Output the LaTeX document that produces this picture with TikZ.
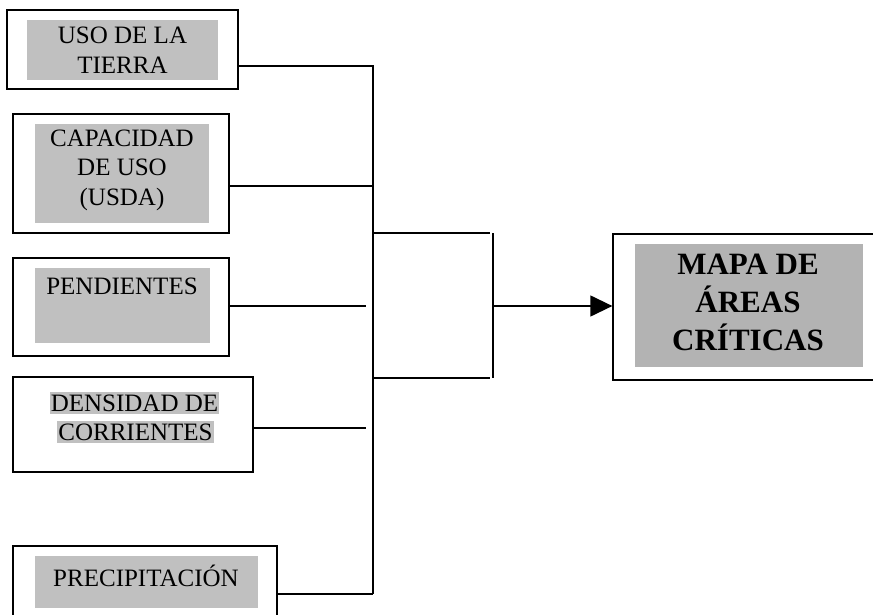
\documentclass[tikz,border=0pt]{standalone}
\usepackage{fontspec}
\setmainfont{Liberation Serif}
\usetikzlibrary{arrows.meta}
\definecolor{boxgray}{RGB}{192,192,192}
\definecolor{mapgray}{RGB}{179,179,179}
\tikzset{
  frame/.style={draw=black, line width=1.3pt, fill=none, inner sep=0pt},
  shade/.style={fill=boxgray, draw=none},
  label/.style={inner sep=0pt, align=center, font=\fontsize{25}{29.5}\selectfont},
  hilite/.style={fill=boxgray, inner xsep=1pt, inner ysep=3pt, font=\fontsize{25}{27}\selectfont},
  biglabel/.style={inner sep=0pt, align=center, font=\fontsize{31}{38}\selectfont\bfseries},
  link/.style={line width=1.3pt},
  feed/.style={line width=1.3pt, -{Triangle[length=22pt,width=21pt]}}
}
\begin{document}
\begin{tikzpicture}[x=1pt,y=-1pt]
\useasboundingbox (0,0) rectangle (873,615);
\clip (0,0) rectangle (873,615);
\fill[white] (0,0) rectangle (873,615);

% input layers: shaded panels
\fill[shade] (27,20) rectangle (218,80);
\fill[shade] (35,124) rectangle (209,223);
\fill[shade] (35,268) rectangle (210,343);
\fill[shade] (35,556) rectangle (258,608);
\fill[mapgray] (635,244) rectangle (863,367);

% input layers: frames
\node[frame, minimum width=231pt, minimum height=79pt] (b1) at (122.5,49.5) {};
\node[frame, minimum width=216pt, minimum height=119pt] (b2) at (121,173.5) {};
\node[frame, minimum width=216pt, minimum height=98pt] (b3) at (121,307) {};
\node[frame, minimum width=240pt, minimum height=95pt] (b4) at (133,424.5) {};
\node[frame, minimum width=264pt, minimum height=90pt] (b5) at (145,591) {};
\node[frame, minimum width=280pt, minimum height=146pt] (out) at (753,307) {};

% texts
\node[label] (t1) at (122.5,50) {USO DE LA\\TIERRA};
\node[label] (t2) at (122,170) {CAPACIDAD\\DE USO\\(USDA)};
\node[label] (t3) at (122,286) {PENDIENTES};
\node[hilite] (t4a) at (134.5,403) {DENSIDAD DE};
\node[hilite] (t4b) at (135.5,432) {CORRIENTES};
\node[label] (t5) at (146,576) {PRECIPITACIÓN};
\node[biglabel] (tout) at (748,302) {MAPA DE\\ÁREAS\\CRÍTICAS};

% junction points on the collector line
\coordinate (j1) at (373,66);
\coordinate (j2) at (373,186);
\coordinate (j3) at (366,306);
\coordinate (j4) at (366,428);
\coordinate (j5) at (373,594);
\coordinate (ka) at (373,233);
\coordinate (kb) at (373,378);
\coordinate (ra) at (490,233);
\coordinate (rb) at (490,378);
\coordinate (sa) at (493,233);
\coordinate (sb) at (493,378);
\coordinate (sm) at (493,306);

% connectors
\draw[link] (b1.east |- j1) -- (j1) -- (j5);
\draw[link] (b2.east |- j2) -- (j2);
\draw[link] (b3.east |- j3) -- (j3);
\draw[link] (b4.east |- j4) -- (j4);
\draw[link] (b5.east |- j5) -- (j5);
\draw[link] (ka) -- (ra);
\draw[link] (kb) -- (rb);
\draw[link] (sa) -- (sb);
\draw[feed] (sm) -- (out.west |- sm);
\end{tikzpicture}
\end{document}
